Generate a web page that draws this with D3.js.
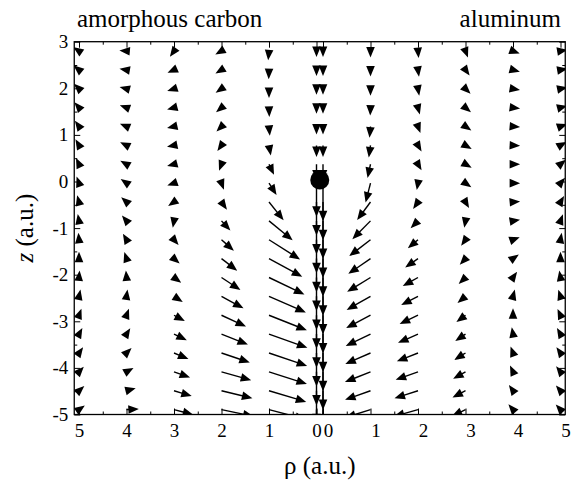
<!DOCTYPE html>
<html>
<head>
<meta charset="utf-8">
<script src="https://cdn.jsdelivr.net/npm/d3@7"></script>
<style>
  body { margin: 0; background: #fff; }
  svg { display: block; }
  svg text { font-family: "Liberation Serif", "Tinos", "Times New Roman", "DejaVu Serif", serif; }
</style>
</head>
<body>
<div id="chart"></div>
<script>
var width = 575, height = 482;

// grid of the field: columns in rho (each half), rows in z
var rhoCols = [0, 1, 2, 3, 4, 5];
var zRows = [2.8, 2.395, 1.99, 1.585, 1.18, 0.775, 0.37, -0.035, -0.44, -0.845,
             -1.25, -1.655, -2.06, -2.465, -2.87, -3.275, -3.68, -4.085, -4.49, -4.895];
var rhoTicks = [0, 1, 2, 3, 4, 5];
var zTicks = [-5, -4, -3, -2, -1, 0, 1, 2, 3];
var charge = { rho: 0, z: 0 };

// arrows per column, top row first: angle on screen (deg, 0 = right, 90 = up), length in a.u.
var carbon0Ang = [270,270,270,270,270,270,270,270,270,270,270,270,270,270,270,270,270,270,270,270];
var carbon0Len = [0.13,0.13,0.13,0.13,0.17,0.25,0.35,0.72,0.72,0.72,0.72,0.72,0.72,0.72,0.72,0.72,0.72,0.72,0.72,0.72];
var carbon1Ang = [265,268,270,272,275,280,295,302,308,320,327,331,334,336,338,340,341,342,343,345];
var carbon1Len = [0.2,0.2,0.2,0.2,0.2,0.22,0.25,0.3,0.5,0.65,0.78,0.8,0.83,0.85,0.86,0.86,0.85,0.84,0.82,0.8];
var carbon2Ang = [210,212,215,220,225,235,250,290,305,312,318,322,326,331,335,338,341,344,346,348];
var carbon2Len = [0.15,0.15,0.15,0.15,0.15,0.15,0.15,0.15,0.2,0.28,0.35,0.42,0.48,0.53,0.57,0.6,0.63,0.65,0.67,0.69];
var carbon3Ang = [235,205,198,195,193,192,195,200,215,260,310,318,323,327,331,334,337,340,343,345];
var carbon3Len = [0.15,0.15,0.15,0.15,0.15,0.15,0.15,0.15,0.15,0.15,0.15,0.16,0.19,0.22,0.26,0.3,0.33,0.36,0.39,0.42];
var carbon4Ang = [175,170,165,160,157,153,150,145,138,130,120,108,95,82,70,58,45,30,15,3];
var carbon4Len = [0.15,0.15,0.15,0.15,0.15,0.15,0.15,0.15,0.15,0.15,0.15,0.15,0.15,0.15,0.15,0.15,0.15,0.17,0.2,0.26];
var carbon5Ang = [145,140,135,130,125,120,115,110,105,100,95,90,85,78,70,62,55,48,42,35];
var carbon5Len = [0.15,0.15,0.15,0.15,0.15,0.15,0.15,0.15,0.15,0.15,0.15,0.15,0.15,0.15,0.15,0.15,0.15,0.15,0.15,0.15];

var aluminum0Ang = [270,270,270,270,270,270,270,270,270,270,270,270,270,270,270,270,270,270,270,270];
var aluminum0Len = [0.13,0.13,0.13,0.13,0.17,0.25,0.35,0.82,0.82,0.82,0.82,0.82,0.82,0.82,0.82,0.82,0.82,0.82,0.82,0.82];
var aluminum1Ang = [270,270,270,268,265,262,258,256,234,226,218,215,212,210,208,206,204,202,200,198];
var aluminum1Len = [0.14,0.14,0.15,0.17,0.24,0.26,0.3,0.43,0.48,0.55,0.57,0.57,0.58,0.58,0.58,0.58,0.58,0.58,0.57,0.56];
var aluminum2Ang = [275,278,280,285,290,300,300,260,235,225,220,215,210,208,206,204,202,200,198,196];
var aluminum2Len = [0.15,0.15,0.15,0.15,0.15,0.15,0.15,0.15,0.18,0.22,0.28,0.33,0.37,0.4,0.43,0.46,0.48,0.5,0.52,0.53];
var aluminum3Ang = [290,305,315,320,325,330,330,325,300,260,235,228,224,220,217,214,212,210,208,206];
var aluminum3Len = [0.15,0.15,0.15,0.15,0.15,0.15,0.15,0.15,0.15,0.15,0.16,0.18,0.2,0.22,0.24,0.26,0.28,0.3,0.31,0.32];
var aluminum4Ang = [340,345,350,352,355,357,0,0,5,10,20,35,55,75,90,100,110,115,125,130];
var aluminum4Len = [0.15,0.15,0.15,0.15,0.15,0.15,0.15,0.15,0.15,0.15,0.15,0.15,0.15,0.15,0.15,0.15,0.15,0.15,0.15,0.15];
var aluminum5Ang = [10,10,12,15,20,30,40,50,60,70,80,90,100,108,115,120,125,128,130,132];
var aluminum5Len = [0.15,0.15,0.15,0.15,0.15,0.15,0.15,0.15,0.15,0.15,0.15,0.15,0.15,0.15,0.15,0.15,0.15,0.15,0.15,0.15];

var carbonAng = [carbon0Ang, carbon1Ang, carbon2Ang, carbon3Ang, carbon4Ang, carbon5Ang];
var carbonLen = [carbon0Len, carbon1Len, carbon2Len, carbon3Len, carbon4Len, carbon5Len];
var aluminumAng = [aluminum0Ang, aluminum1Ang, aluminum2Ang, aluminum3Ang, aluminum4Ang, aluminum5Ang];
var aluminumLen = [aluminum0Len, aluminum1Len, aluminum2Len, aluminum3Len, aluminum4Len, aluminum5Len];

// scales: left half runs rho 5 -> 0, right half 0 -> 5
var xL = d3.scaleLinear().domain([0, 5]).range([316.5, 79]);
var xR = d3.scaleLinear().domain([0, 5]).range([323, 560.5]);
var y = d3.scaleLinear().domain([-5, 3]).range([414.5, 41.7]);

var plotLeft = xL(5.1), plotRight = xR(5.1), plotTop = y(3), plotBottom = y(-5);

var headLen = 10.5, headHalf = 4.3;

var svg = d3.select("#chart").append("svg")
  .attr("width", width)
  .attr("height", height);

svg.append("clipPath").attr("id", "plotclip")
  .append("rect")
  .attr("x", plotLeft).attr("y", plotTop)
  .attr("width", plotRight - plotLeft).attr("height", plotBottom - plotTop);

// build arrow list
var arrows = [];
rhoCols.forEach(function (rho, c) {
  zRows.forEach(function (z, r) {
    var a = carbonAng[c][r] * Math.PI / 180, l = carbonLen[c][r];
    arrows.push({
      x0: xL(rho), y0: y(z),
      x1: xL(rho - l * Math.cos(a)), y1: y(z + l * Math.sin(a))
    });
    a = aluminumAng[c][r] * Math.PI / 180; l = aluminumLen[c][r];
    arrows.push({
      x0: xR(rho), y0: y(z),
      x1: xR(rho + l * Math.cos(a)), y1: y(z + l * Math.sin(a))
    });
  });
});

var field = svg.append("g").attr("clip-path", "url(#plotclip)");

arrows.forEach(function (d) {
  var dx = d.x1 - d.x0, dy = d.y1 - d.y0;
  var n = Math.sqrt(dx * dx + dy * dy);
  var ux = dx / n, uy = dy / n;
  var bx = d.x1 - headLen * ux, by = d.y1 - headLen * uy;
  if (n > headLen) {
    field.append("line")
      .attr("x1", d.x0).attr("y1", d.y0)
      .attr("x2", bx + ux).attr("y2", by + uy)
      .attr("stroke", "#000")
      .attr("stroke-width", 1.4);
  }
  field.append("path")
    .attr("d", "M" + d.x1 + "," + d.y1 +
      "L" + (bx - headHalf * uy) + "," + (by + headHalf * ux) +
      "L" + (bx + headHalf * uy) + "," + (by - headHalf * ux) + "Z")
    .attr("fill", "#000");
});

// the charge
svg.append("circle")
  .attr("cx", (xL(charge.rho) + xR(charge.rho)) / 2)
  .attr("cy", y(charge.z) - 1.5)
  .attr("r", 9.5)
  .attr("fill", "#000");

// axes
var halfTicksL = [0.5, 1.5, 2.5, 3.5, 4.5];
var halfTicksZ = [-4.5, -3.5, -2.5, -1.5, -0.5, 0.5, 1.5, 2.5];

function styleAxis(g) {
  g.select(".domain").remove();
  g.selectAll("line").attr("stroke", "#000").attr("stroke-width", 1);
  g.selectAll("text").attr("font-size", 19).attr("fill", "#000")
    .attr("font-family", null);
  g.attr("font-family", null);
}

[xL, xR].forEach(function (sc, i) {
  var gb = svg.append("g").attr("transform", "translate(0," + plotBottom + ")")
    .call(d3.axisBottom(sc).tickValues(rhoTicks).tickSizeInner(-6).tickSizeOuter(0)
      .tickPadding(9).tickFormat(function (d) { return String(d); }))
    .call(styleAxis);
  if (i == 1) gb.selectAll("text").attr("x", 5);
  svg.append("g").attr("transform", "translate(0," + plotBottom + ")")
    .call(d3.axisBottom(sc).tickValues(halfTicksL).tickSizeInner(-3).tickSizeOuter(0).tickFormat(""))
    .call(styleAxis);
  svg.append("g").attr("transform", "translate(0," + plotTop + ")")
    .call(d3.axisTop(sc).tickValues(rhoTicks).tickSizeInner(-6).tickSizeOuter(0).tickFormat(""))
    .call(styleAxis);
  svg.append("g").attr("transform", "translate(0," + plotTop + ")")
    .call(d3.axisTop(sc).tickValues(halfTicksL).tickSizeInner(-3).tickSizeOuter(0).tickFormat(""))
    .call(styleAxis);
});

svg.append("g").attr("transform", "translate(" + plotLeft + ",0)")
  .call(d3.axisLeft(y).tickValues(zTicks).tickSizeInner(-6).tickSizeOuter(0)
    .tickPadding(6).tickFormat(function (d) { return String(d); }))
  .call(styleAxis);
svg.append("g").attr("transform", "translate(" + plotLeft + ",0)")
  .call(d3.axisLeft(y).tickValues(halfTicksZ).tickSizeInner(-3).tickSizeOuter(0).tickFormat(""))
  .call(styleAxis);
svg.append("g").attr("transform", "translate(" + plotRight + ",0)")
  .call(d3.axisRight(y).tickValues(zTicks).tickSizeInner(-6).tickSizeOuter(0).tickFormat(""))
  .call(styleAxis);
svg.append("g").attr("transform", "translate(" + plotRight + ",0)")
  .call(d3.axisRight(y).tickValues(halfTicksZ).tickSizeInner(-3).tickSizeOuter(0).tickFormat(""))
  .call(styleAxis);

// frame
svg.append("rect")
  .attr("x", plotLeft).attr("y", plotTop)
  .attr("width", plotRight - plotLeft).attr("height", plotBottom - plotTop)
  .attr("fill", "none")
  .attr("stroke", "#000")
  .attr("stroke-width", 1.3);

// labels
svg.append("text")
  .attr("x", 77).attr("y", 27)
  .attr("font-size", 25)
  .text("amorphous carbon");

svg.append("text")
  .attr("x", 561).attr("y", 27)
  .attr("text-anchor", "end")
  .attr("font-size", 25)
  .text("aluminum");

svg.append("text")
  .attr("x", (plotLeft + plotRight) / 2).attr("y", 474)
  .attr("text-anchor", "middle")
  .attr("font-size", 25)
  .text("ρ (a.u.)");

var ylab = svg.append("text")
  .attr("transform", "translate(33," + ((plotTop + plotBottom) / 2) + ") rotate(-90)")
  .attr("text-anchor", "middle")
  .attr("font-size", 25);
ylab.append("tspan").attr("font-style", "italic").text("z");
ylab.append("tspan").text(" (a.u.)");
</script>
</body>
</html>
